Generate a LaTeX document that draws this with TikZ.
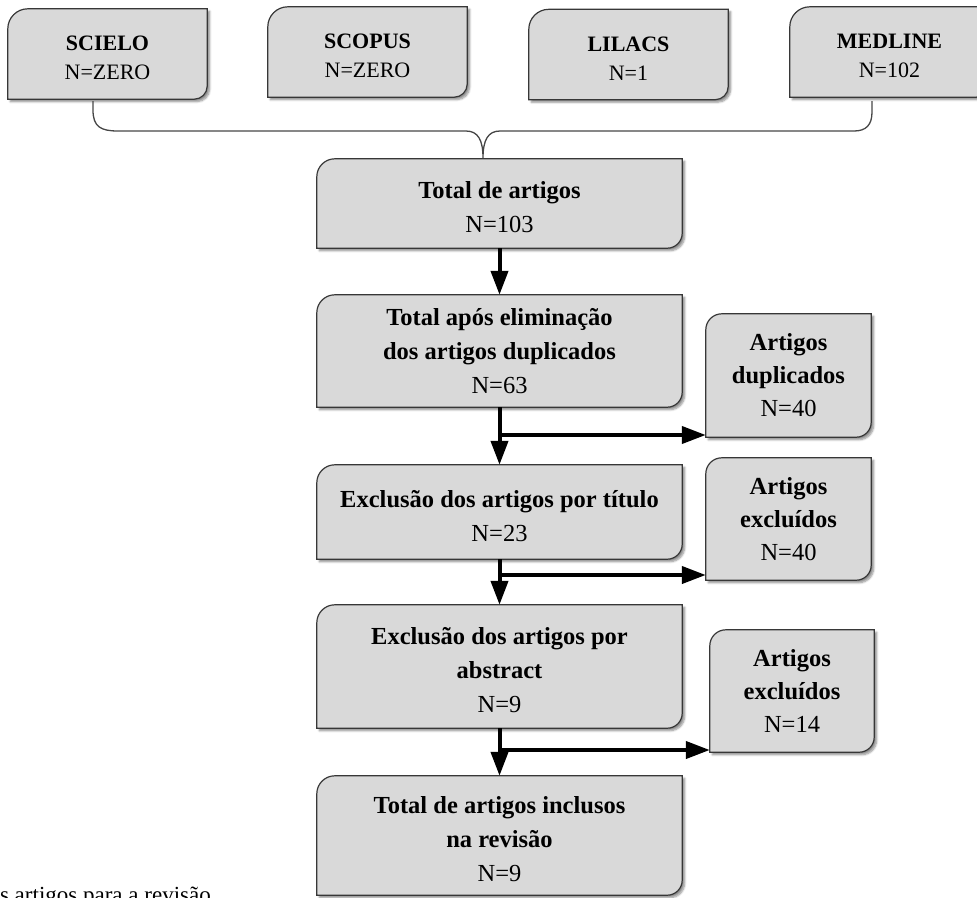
\documentclass[tikz,border=0pt]{standalone}
\usepackage{fontspec}
\setmainfont{Liberation Serif}
\usetikzlibrary{arrows.meta,shadows.blur,backgrounds,calc}
\definecolor{boxgray}{RGB}{217,217,217}
\definecolor{boxline}{RGB}{55,55,55}
\definecolor{braceline}{RGB}{70,70,70}
\newcommand\mstrut{\rule{0pt}{25pt}}
\newcommand\tstrut{\rule{0pt}{22.5pt}}
\tikzset{
  boxfill/.style={fill=boxgray, draw=boxline, line width=1.2pt,
    blur shadow={shadow xshift=2.5pt, shadow yshift=-2.5pt, shadow blur steps=6,
                 shadow blur radius=2pt, shadow opacity=45}},
  topbox/.style={minimum width=199pt, minimum height=90pt, inner sep=0pt, align=center,
    font=\fontsize{22}{29}\selectfont},
  mainbox/.style={minimum width=365pt, inner sep=0pt, align=center,
    font=\fontsize{24.5}{34}\selectfont},
  sidebox/.style={inner sep=0pt, align=center, font=\fontsize{24.5}{33}\selectfont},
  flowarrow/.style={line width=4pt, -{Triangle[length=24pt,width=17pt]}},
  bracepath/.style={draw=braceline, line width=1.3pt},
}
\newcommand\roundbox[3]{%
  \path[boxfill] (#1.south west) -- ([yshift=-#2]#1.north west)
    arc[start angle=180,end angle=90,radius=#2] -- (#1.north east)
    -- ([yshift=#3]#1.south east) arc[start angle=0,end angle=-90,radius=#3] -- cycle;}
\begin{document}
\begin{tikzpicture}[x=1pt,y=-1pt]
\useasboundingbox (0,0) rectangle (977,897);
\clip (0,0) rectangle (977,897);
% top boxes
\node[topbox] (scielo)  at (107.5,54)   {\tstrut\textbf{SCIELO}\\N=ZERO};
\node[topbox] (scopus)  at (367.5,52)   {\tstrut\textbf{SCOPUS}\\N=ZERO};
\node[topbox] (lilacs)  at (628.5,54.5) {\tstrut\textbf{LILACS}\\N=1};
\node[topbox] (medline) at (889.5,52)   {\tstrut\textbf{MEDLINE}\\N=102};
% main column
\node[mainbox, minimum height=89pt]  (tot) at (499.5,203.5) {\mstrut\textbf{Total de artigos}\\N=103};
\node[mainbox, minimum height=112pt] (dup) at (499.5,351)   {\textbf{Total após eliminação}\\\textbf{dos artigos duplicados}\\N=63};
\node[mainbox, minimum height=94pt]  (tit) at (499.5,512)   {\mstrut\textbf{Exclusão dos artigos por título}\\N=23};
\node[mainbox, minimum height=123pt] (abs) at (499.5,666.5) {\mstrut\textbf{Exclusão dos artigos por}\\\textbf{abstract}\\N=9};
\node[mainbox, minimum height=119pt] (inc) at (499.5,835.5) {\mstrut\textbf{Total de artigos inclusos}\\\textbf{na revisão}\\N=9};
% side boxes
\node[sidebox, minimum width=165pt, minimum height=123pt] (s1) at (788.5,375.5) {\textbf{Artigos}\\\textbf{duplicados}\\N=40};
\node[sidebox, minimum width=165pt, minimum height=122pt] (s2) at (788.5,519)   {\textbf{Artigos}\\\textbf{excluídos}\\N=40};
\node[sidebox, minimum width=164pt, minimum height=122pt] (s3) at (792,691)     {\textbf{Artigos}\\\textbf{excluídos}\\N=14};
% caption fragment
\node[anchor=base east, inner sep=0pt, font=\fontsize{23}{28}\selectfont] (cap) at (211,902) {s artigos para a revisão};
\begin{scope}[on background layer]
  \roundbox{scielo}{20pt}{13pt}
  \roundbox{scopus}{20pt}{13pt}
  \roundbox{lilacs}{20pt}{13pt}
  \roundbox{medline}{20pt}{13pt}
  \roundbox{tot}{18pt}{15pt}
  \roundbox{dup}{18pt}{15pt}
  \roundbox{tit}{18pt}{15pt}
  \roundbox{abs}{18pt}{15pt}
  \roundbox{inc}{18pt}{15pt}
  \roundbox{s1}{16pt}{15pt}
  \roundbox{s2}{16pt}{15pt}
  \roundbox{s3}{16pt}{15pt}
\end{scope}
% brace
\coordinate (bl) at (93,101);
\coordinate (br) at (872,101);
\coordinate (tip) at (483,158);
\draw[bracepath] (bl) -- (93,110) .. controls (93,127) and (101,131) .. (118,131)
  -- (466,131) .. controls (478,131) and (483,140) .. (tip)
  .. controls (483,140) and (488,131) .. (500,131)
  -- (854,131) .. controls (866,131) and (872,125) .. (872,112) -- (br);
% arrows
\coordinate (j1) at (499.5,435);
\coordinate (j2) at (499.5,575);
\coordinate (j3) at (499.5,750);
\draw[flowarrow] (tot.south) -- (dup.north);
\draw[flowarrow] (dup.south) -- (tit.north);
\draw[flowarrow] (tit.south) -- (abs.north);
\draw[flowarrow] (abs.south) -- (inc.north);
\draw[flowarrow] (j1) -- (j1 -| s1.west);
\draw[flowarrow] (j2) -- (j2 -| s2.west);
\draw[flowarrow] (j3) -- (j3 -| s3.west);
\end{tikzpicture}
\end{document}
